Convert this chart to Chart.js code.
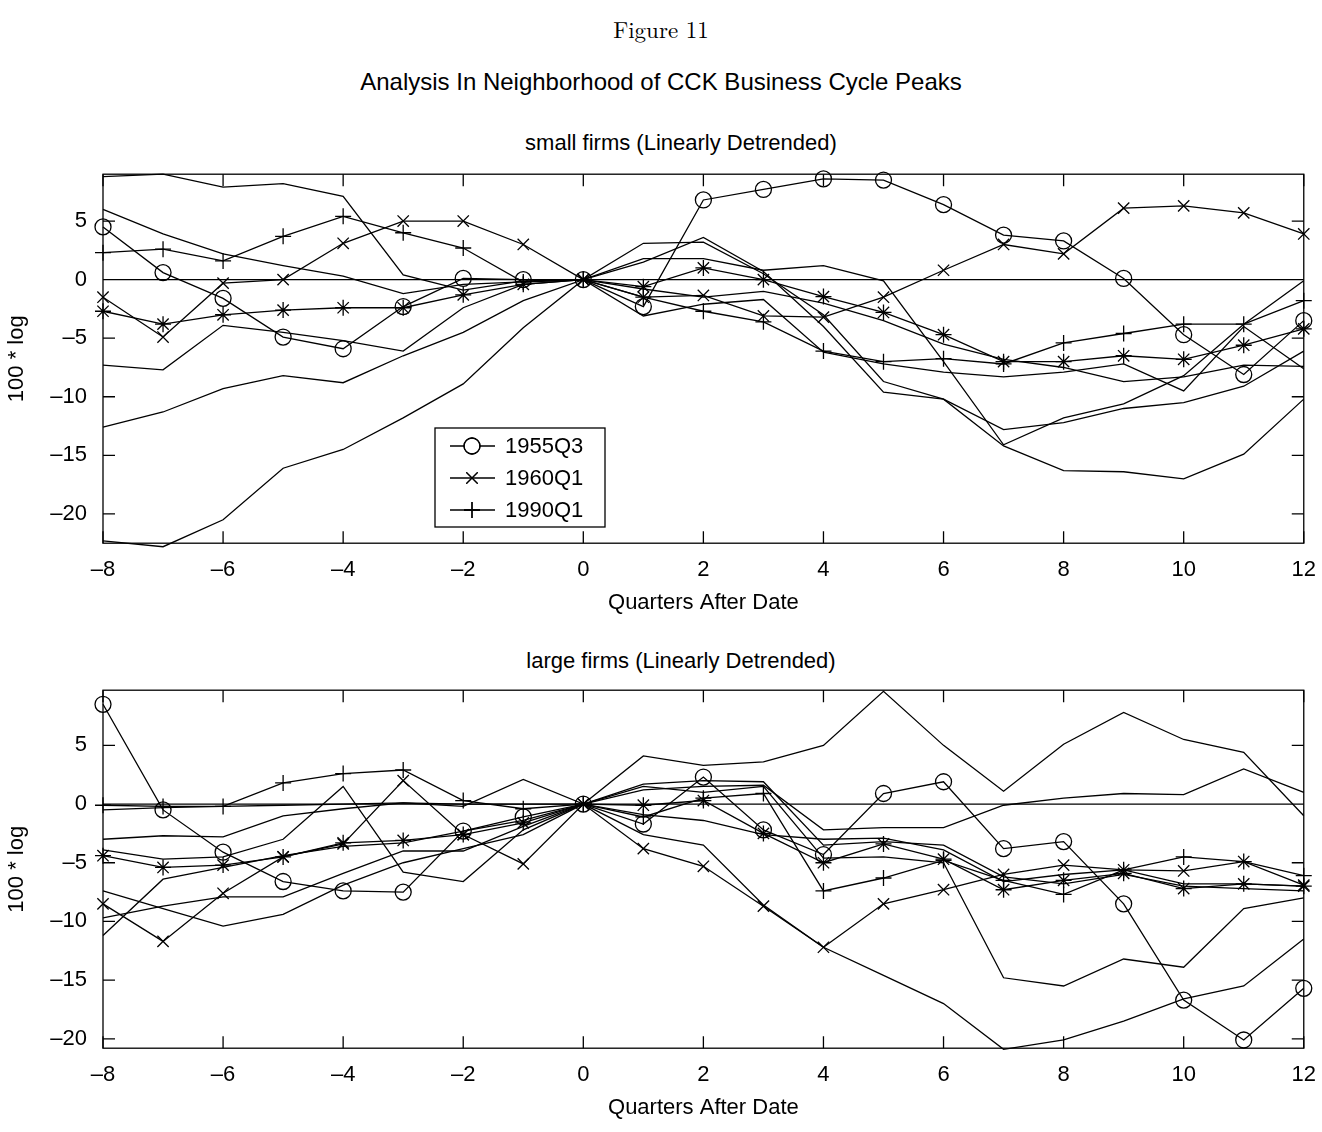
<!DOCTYPE html>
<html><head><meta charset="utf-8">
<script src="https://cdn.jsdelivr.net/npm/chart.js@4/dist/chart.umd.min.js"></script>
<style>
body{margin:0;background:#fff;width:1322px;height:1132px;position:relative;overflow:hidden;font-family:"Liberation Sans",Arial,sans-serif}
.t{position:absolute;left:0;width:1322px;text-align:center;color:#000}
canvas{position:absolute;left:0}
</style></head><body>
<div class="t" style="top:12px;font-family:'Latin Modern Roman','DejaVu Serif','Liberation Serif',serif;font-size:23px">Figure 11</div>
<div class="t" style="top:68px;font-size:24px">Analysis In Neighborhood of CCK Business Cycle Peaks</div>
<div class="t" style="top:130px;font-size:22px;padding-left:40px;box-sizing:border-box">small firms (Linearly Detrended)</div>
<div class="t" style="top:648px;font-size:22px;padding-left:40px;box-sizing:border-box">large firms (Linearly Detrended)</div>
<div style="position:absolute;top:0;left:0"><canvas id="c1" width="1322" height="467" style="top:153px"></canvas></div>
<div style="position:absolute;top:0;left:0"><canvas id="c2" width="1322" height="456" style="top:669px"></canvas></div>
<script>
const quarters=[-8,-7,-6,-5,-4,-3,-2,-1,0,1,2,3,4,5,6,7,8,9,10,11,12];
const seriesNames=["1955Q3","1960Q1","1990Q1"];
// small firms
const small1955Q3=[4.5,0.6,-1.6,-4.9,-5.9,-2.3,0.1,0,0,-2.3,6.8,7.7,8.6,8.5,6.4,3.8,3.3,0.1,-4.7,-8.1,-3.5];
const small1960Q1=[-1.5,-4.9,-0.3,0,3.1,5.0,5.0,3.0,0,-1.5,-1.35,-3.1,-3.2,-1.5,0.8,3.0,2.2,6.1,6.3,5.7,3.9];
const small1990Q1=[2.3,2.6,1.6,3.7,5.4,4.0,2.7,-0.2,0,-1.5,-2.7,-3.6,-6.1,-7.0,-6.75,-7.2,-5.4,-4.6,-3.8,-3.8,-1.8];
const smallStar=[-2.7,-3.8,-3.0,-2.6,-2.4,-2.4,-1.3,-0.4,0,-0.6,1.0,0,-1.45,-2.8,-4.7,-7.0,-7.0,-6.5,-6.8,-5.6,-4.2];
const smallPlain=[
 [8.8,9.0,7.9,8.2,7.1,0.4,-0.9,-0.1,0,3.1,3.2,0.5,-3.0,-8.7,-10.2,-12.8,-12.2,-11.0,-10.5,-9.1,-6.1],
 [6.0,3.9,2.2,1.2,0.3,-1.2,-0.4,-0.2,0,1.5,3.6,0.7,-4.0,-9.6,-10.2,-14.2,-16.3,-16.4,-17.0,-14.9,-10.2],
 [-7.3,-7.7,-3.9,-4.5,-5.2,-6.1,-2.4,-0.4,0,1.8,1.8,0.8,1.2,-0.1,-7.0,-14.1,-11.8,-10.6,-8.2,-3.8,-0.1],
 [-12.6,-11.3,-9.3,-8.2,-8.8,-6.5,-4.5,-1.8,0,-3.1,-2.1,-1.7,-6.2,-7.2,-7.9,-8.3,-7.9,-7.2,-9.5,-4.0,-7.6],
 [-22.3,-22.8,-20.5,-16.1,-14.5,-11.8,-8.9,-4.1,0,-0.8,-1.5,-1.0,-2.0,-3.5,-5.5,-6.8,-7.5,-8.7,-8.3,-7.3,-7.4]
];
// large firms
const large1955Q3=[8.5,-0.5,-4.1,-6.6,-7.4,-7.5,-2.3,-1.1,0,-1.7,2.3,-2.2,-4.3,0.9,1.9,-3.8,-3.2,-8.5,-16.7,-20.1,-15.7];
const large1960Q1=[-8.5,-11.7,-7.6,-4.5,-3.4,2.0,-2.6,-5.1,0,-3.8,-5.3,-8.7,-12.2,-8.5,-7.3,-6.0,-5.2,-5.6,-5.7,-4.9,-6.9];
const large1990Q1=[-0.1,-0.2,-0.2,1.8,2.6,2.9,0.3,-0.4,0,-1.1,0.5,0.9,-7.4,-6.3,-4.8,-6.5,-7.7,-5.6,-4.5,-4.9,-6.1];
const largeStar=[-4.4,-5.4,-5.2,-4.5,-3.3,-3.1,-2.6,-1.6,0,-0.1,0.3,-2.5,-5.0,-3.4,-4.7,-7.3,-6.5,-5.9,-7.2,-6.8,-7.0];
const largePlain=[
 [-3.0,-2.7,-2.8,-1.0,-0.4,0.1,-0.2,2.1,0,4.1,3.3,3.6,5.0,9.6,5.0,1.1,5.1,7.8,5.5,4.4,-1.0],
 [-0.5,-0.3,-0.2,-0.1,0,0.1,0,0,0,1.2,1.5,1.6,-2.2,-2.0,-2.0,-0.1,0.5,0.9,0.8,3.0,1.0],
 [-3.9,-4.7,-4.5,-3.0,1.5,-5.8,-6.6,-2.2,0,1.7,2.0,1.9,-3.5,-3.2,-3.5,-6.2,-6.8,-6.0,-7.0,-7.2,-7.4],
 [-7.4,-8.9,-10.4,-9.4,-6.9,-5.0,-3.8,-2.6,0,-2.6,-3.5,-8.6,-12.2,-14.6,-17.0,-20.9,-20.1,-18.5,-16.6,-15.5,-11.5],
 [-9.7,-8.7,-7.9,-7.9,-5.9,-4.0,-4.0,-1.9,0,1.5,1.0,1.5,-4.6,-4.5,-5.0,-14.8,-15.5,-13.2,-13.9,-8.9,-8.0],
 [-11.2,-6.4,-5.4,-4.4,-3.6,-3.3,-2.3,-1.4,0,-0.9,-1.4,-2.6,-3.0,-2.9,-3.9,-6.6,-6.0,-5.6,-6.8,-6.8,-7.0]
];
const xTicks=[-8,-6,-4,-2,0,2,4,6,8,10,12];
const yTicks=[-20,-15,-10,-5,0,5];

function pts(a){return a.map((v,i)=>({x:quarters[i],y:v}));}
function ds(a,style,label){return {label:label||'',data:pts(a),borderColor:'#000',backgroundColor:'rgba(0,0,0,0)',borderWidth:1.3,
 pointStyle:style||false,pointRadius:style?8:0,pointBorderWidth:1.3,pointBorderColor:'#000',tension:0};}
function fmt(v){return String(v).replace('-','\u2013');}
const F='"Liberation Sans",Arial,sans-serif';
const frame={id:'frame',afterDraw(c,args,o){const a=c.chartArea,x=c.scales.x,y=c.scales.y,ctx=c.ctx;ctx.save();ctx.strokeStyle='#000';ctx.lineWidth=1.3;
 ctx.strokeRect(a.left,a.top,a.right-a.left,a.bottom-a.top);
 ctx.beginPath();ctx.moveTo(a.left,y.getPixelForValue(0));ctx.lineTo(a.right,y.getPixelForValue(0));
 xTicks.forEach(t=>{const p=x.getPixelForValue(t);ctx.moveTo(p,a.bottom);ctx.lineTo(p,a.bottom-12);ctx.moveTo(p,a.top);ctx.lineTo(p,a.top+12);});
 yTicks.forEach(t=>{const p=y.getPixelForValue(t);ctx.moveTo(a.left,p);ctx.lineTo(a.left+12,p);ctx.moveTo(a.right,p);ctx.lineTo(a.right-12,p);});
 ctx.stroke();
 if(o.legend){const L=o.legend;ctx.fillStyle='#fff';ctx.fillRect(L.x,L.y,L.w,L.h);ctx.strokeRect(L.x,L.y,L.w,L.h);
  const st=['circle','crossRot','cross'];ctx.font='22px '+F;ctx.textBaseline='middle';
  seriesNames.forEach((n,i)=>{const yy=L.y+18+i*32;ctx.beginPath();ctx.moveTo(L.x+15,yy);ctx.lineTo(L.x+60,yy);ctx.stroke();
   Chart.helpers.drawPoint(ctx,{pointStyle:st[i],radius:8,borderWidth:1.3},L.x+37,yy);ctx.stroke();ctx.fillStyle='#000';ctx.fillText(n,L.x+70,yy+1);});}
 ctx.restore();}};
function make(id,sets,ymin,ymax,legend){
 return new Chart(document.getElementById(id),{type:'line',data:{datasets:sets},plugins:[frame],
 options:{responsive:false,animation:false,clip:false,layout:{padding:{top:8,right:18,left:0,bottom:0}},
 plugins:{legend:{display:false},tooltip:{enabled:false},frame:{legend:legend}},
 scales:{x:{type:'linear',min:-8,max:12,grid:{display:false},border:{display:false},
   afterBuildTicks(s){s.ticks=xTicks.map(v=>({value:v}));},
   ticks:{color:'#000',font:{size:22,family:F},padding:6,maxRotation:0,callback:v=>fmt(v)},
   title:{display:true,text:'Quarters After Date',color:'#000',font:{size:22,family:F},padding:{top:0}}},
  y:{min:ymin,max:ymax,grid:{display:false},border:{display:false},afterFit(s){s.width=103;},
   afterBuildTicks(s){s.ticks=yTicks.map(v=>({value:v}));},
   ticks:{color:'#000',font:{size:22,family:F},padding:8,callback:v=>fmt(v)},
   title:{display:true,text:'100 * log',color:'#000',font:{size:22,family:F},padding:{bottom:2}}}}}});
}
const s1=[...smallPlain.map(a=>ds(a)),ds(small1955Q3,'circle','1955Q3'),ds(small1960Q1,'crossRot','1960Q1'),ds(small1990Q1,'cross','1990Q1'),ds(smallStar,'star')];
const s2=[...largePlain.map(a=>ds(a)),ds(large1955Q3,'circle','1955Q3'),ds(large1960Q1,'crossRot','1960Q1'),ds(large1990Q1,'cross','1990Q1'),ds(largeStar,'star')];
make('c1',s1,-22.5,9,{x:435,y:275,w:170,h:99});
make('c2',s2,-20.8,9.7,null);
</script></body></html>
